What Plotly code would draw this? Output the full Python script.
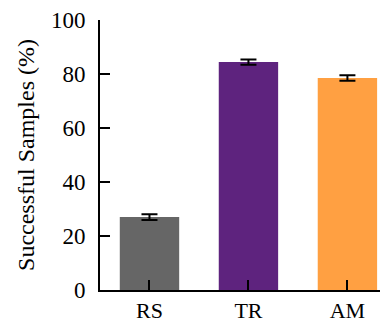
import plotly.graph_objects as go

categories = ["RS", "TR", "AM"]
values = [27.0, 84.4, 78.5]
errors = [1.1, 1.0, 1.0]
colors = ["#666666", "#5e237e", "#ffa042"]
y_ticks = [0, 20, 40, 60, 80, 100]

FONT = "Liberation Serif"

fig = go.Figure()
fig.add_trace(go.Bar(
    x=categories, y=values,
    marker=dict(color=colors, line=dict(width=0)),
    width=0.6,
    error_y=dict(type="data", array=errors, visible=True, color="black", thickness=2, width=8),
))

# page has an 8px body margin, so the figure is offset by 8px
fig.update_layout(
    width=380, height=314,
    margin=dict(l=92, r=0, t=12, b=32, autoexpand=False),
    plot_bgcolor="white", paper_bgcolor="white",
    font=dict(family=FONT, size=23, color="black"),
    showlegend=False,
    xaxis=dict(
        range=[-0.5, 2.41], automargin=False,
        showline=True, linecolor="black", linewidth=2,
        ticks="inside", ticklen=10, tickwidth=2, tickcolor="black",
        showgrid=False, zeroline=False,
        tickfont=dict(family=FONT, size=22),
        ticklabelstandoff=0,
    ),
    yaxis=dict(
        range=[0, 100], automargin=False,
        tickvals=y_ticks,
        showline=True, linecolor="black", linewidth=2,
        ticks="inside", ticklen=10, tickwidth=2, tickcolor="black",
        showgrid=False, zeroline=False,
        tickfont=dict(family=FONT, size=23),
        ticklabelstandoff=8,
        title=dict(text="Successful Samples (%)", font=dict(family=FONT, size=24), standoff=10),
    ),
)

fig.write_html("out.html")
